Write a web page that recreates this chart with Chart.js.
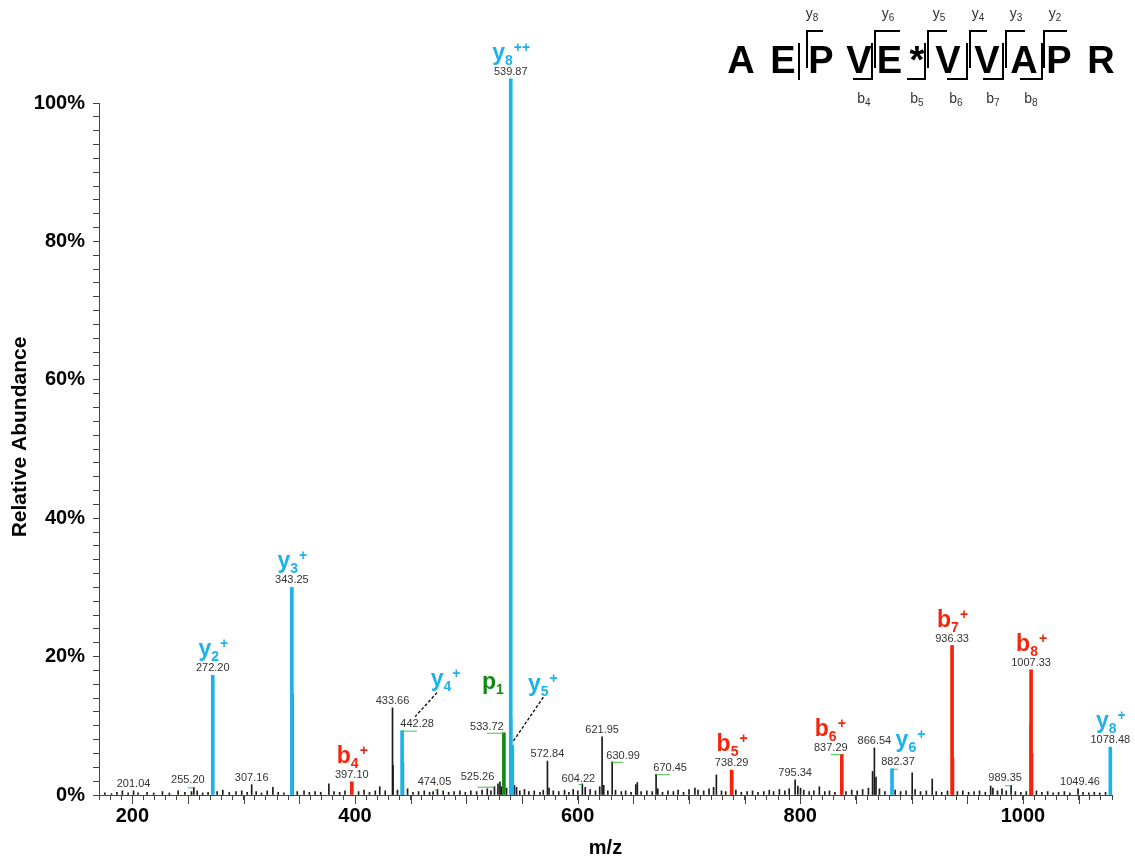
<!DOCTYPE html>
<html>
<head>
<meta charset="utf-8">
<script src="https://cdn.jsdelivr.net/npm/chart.js@4.4.1/dist/chart.umd.min.js"></script>
<style>
  html, body { margin: 0; padding: 0; background: #fff; }
  canvas { display: block; }
</style>
</head>
<body>
<canvas id="spec" width="1135" height="858"></canvas>
<script>
// ---- spectrum data: m/z and relative abundance (%) ----
const yIonMz = [272.20, 343.25, 442.28, 539.87, 541.30, 882.37, 1078.48];
const yIonAbund = [17.3, 30.0, 9.3, 103.5, 7.2, 3.8, 6.9];
const yIonIsoMz = [344.25, 443.28, 540.37];
const yIonIsoAbund = [14.5, 4.6, 11.0];

const bIonMz = [397.10, 738.29, 837.29, 936.33, 1007.33];
const bIonAbund = [1.9, 3.6, 5.9, 21.6, 18.1];
const bIonIsoMz = [738.80, 937.33, 1006.83, 1008.33];
const bIonIsoAbund = [3.3, 5.3, 10.4, 6.0];

const precursorMz = [533.72];
const precursorAbund = [9.0];

const otherMz = [175.3, 181.2, 186.1, 191.0, 196.2, 201.04, 205.1, 213.2, 219.1, 227.0,
  233.2, 241.1, 247.2, 253.1, 255.20, 258.2, 263.1, 268.0, 276.1, 281.2,
  287.0, 293.1, 298.2, 303.1, 307.16, 311.2, 316.0, 321.1, 326.2, 331.0,
  336.1, 348.1, 354.2, 359.0, 364.1, 369.2, 376.5, 381.1, 386.2, 391.0,
  403.2, 408.1, 413.0, 418.2, 422.2, 427.1, 433.66, 434.16, 438.1, 447.2,
  452.0, 457.1, 462.2, 467.0, 470.1, 474.05, 479.2, 484.1, 489.0, 494.2,
  499.1, 504.0, 509.2, 514.1, 518.8, 522.1, 525.26, 528.4, 530.2, 531.3,
  536.1, 543.2, 545.1, 548.0, 552.2, 556.1, 561.0, 566.2, 569.1, 572.84,
  574.3, 578.1, 583.0, 588.2, 592.1, 596.0, 600.1, 604.22, 606.8, 611.2,
  616.0, 619.8, 621.95, 623.4, 627.1, 630.99, 634.0, 639.2, 643.1, 648.0,
  652.2, 653.6, 657.0, 662.1, 667.0, 670.45, 672.0, 676.2, 681.1, 686.0,
  690.2, 695.1, 700.0, 705.3, 708.1, 713.2, 718.0, 722.1, 724.6, 729.2,
  733.0, 742.1, 747.0, 752.2, 757.1, 762.0, 767.2, 772.1, 776.0, 781.2,
  786.1, 790.0, 795.34, 797.8, 800.2, 803.1, 808.0, 812.2, 817.1, 822.0,
  826.2, 831.1, 841.0, 846.2, 851.1, 856.0, 861.2, 864.9, 866.54, 868.0,
  871.1, 876.0, 885.2, 890.1, 895.0, 900.5, 903.1, 908.0, 913.2, 918.5,
  922.1, 927.0, 932.2, 941.1, 946.0, 951.2, 956.1, 961.0, 966.2, 971.0,
  973.0, 977.1, 981.2, 985.0, 989.35, 993.2, 998.1, 1003.0, 1012.1, 1017.0,
  1022.2, 1027.1, 1032.0, 1037.2, 1042.1, 1049.46, 1054.0, 1059.2, 1064.1, 1069.0,
  1074.2];
const otherAbund = [0.3, 0.2, 0.4, 0.6, 0.3, 0.6, 0.3, 0.4, 0.3, 0.5,
  0.3, 0.6, 0.4, 0.5, 1.1, 0.6, 0.3, 0.4, 0.5, 0.7,
  0.4, 0.5, 0.6, 0.4, 1.5, 0.5, 0.3, 0.6, 1.1, 0.4,
  0.3, 0.5, 0.6, 0.4, 0.5, 0.4, 1.6, 0.5, 0.4, 0.6,
  0.5, 0.7, 0.4, 0.6, 1.2, 0.6, 12.6, 4.3, 0.7, 0.9,
  0.4, 0.5, 0.6, 0.4, 0.5, 0.8, 0.6, 0.4, 0.5, 0.6,
  0.4, 0.6, 0.5, 0.7, 0.9, 0.6, 1.2, 1.6, 1.9, 1.2,
  1.0, 1.4, 1.1, 0.6, 0.8, 0.5, 0.6, 0.4, 0.7, 4.9,
  1.0, 0.6, 0.5, 0.7, 0.4, 0.8, 0.6, 1.6, 1.1, 0.8,
  0.6, 1.2, 8.4, 1.4, 0.6, 4.8, 0.7, 0.5, 0.6, 0.4,
  1.5, 1.8, 0.5, 0.6, 0.5, 3.0, 0.9, 0.4, 0.6, 0.5,
  0.7, 0.4, 0.8, 1.0, 0.7, 0.6, 0.9, 1.1, 2.9, 0.6,
  0.5, 0.7, 0.4, 0.5, 0.6, 0.4, 0.5, 0.7, 0.5, 0.8,
  0.6, 0.9, 2.2, 1.3, 1.0, 0.7, 0.5, 0.6, 1.2, 0.5,
  0.6, 0.4, 0.5, 0.7, 0.6, 0.8, 1.0, 3.4, 6.8, 2.6,
  0.9, 0.5, 0.7, 0.5, 0.6, 3.2, 0.8, 0.5, 0.6, 2.3,
  0.5, 0.4, 0.6, 0.5, 0.6, 0.4, 0.5, 0.6, 0.4, 1.3,
  1.0, 0.6, 0.9, 0.6, 1.4, 0.5, 0.4, 0.5, 0.6, 0.4,
  0.5, 0.3, 0.4, 0.5, 0.3, 0.9, 0.4, 0.3, 0.4, 0.3,
  0.4];

// ion annotations drawn above their peaks
const ionTagMz = [272.20, 343.25, 442.28, 539.87, 541.30, 882.37, 1078.48,
  397.10, 738.29, 837.29, 936.33, 1007.33, 533.72];
const ionTagName = ['y', 'y', 'y', 'y', 'y', 'y', 'y', 'b', 'b', 'b', 'b', 'b', 'p'];
const ionTagIndex = ['2', '3', '4', '8', '5', '6', '8', '4', '5', '6', '7', '8', '1'];
const ionTagCharge = ['+', '+', '+', '++', '+', '+', '+', '+', '+', '+', '+', '+', ''];

// peaks whose m/z is printed
const mzLabelValues = [201.04, 255.20, 272.20, 307.16, 343.25, 397.10, 433.66, 442.28,
  474.05, 525.26, 533.72, 539.87, 572.84, 604.22, 621.95, 630.99, 670.45, 738.29,
  795.34, 837.29, 866.54, 882.37, 936.33, 989.35, 1007.33, 1049.46, 1078.48];

// peptide sequence and observed cleavages
const sequence = ['A', 'E', 'P', 'V', 'E', '*', 'V', 'V', 'A', 'P', 'R'];
const yCutIndex = ['8', '6', '5', '4', '3', '2'];
const bCutIndex = ['4', '5', '6', '7', '8'];

const xTickLabels = [200, 400, 600, 800, 1000];
const yTickLabels = [0, 20, 40, 60, 80, 100];

// ---- styling / layout ----
const FAM = '"Liberation Sans", Arial, Helvetica, sans-serif';
const BLUE = '#1db2ea', BLUE_DK = '#1592c4';
const RED = '#f4240c', RED_DK = '#c81c08';
const GREEN = '#0f8a12';
const LINK = '#45c048';

// offsets (px) of ion tags from the peak apex: [dx, baseline dy]
const tagOffset = {
  '442.28': [43, -45], '541.3': [30, -54], '533.72': [-11, -44],
  '837.29': [-12, -18], '882.37': [18, -22]
};
// dashed leaders relative to the peak apex: [x1, y1, x2, y2]
const tagLeader = {
  '442.28': [35, -38, 13, -14],
  '541.3': [31, -48, 1, -4]
};
// offsets of printed m/z values from the apex: [dx, dy, connector]
const numOffset = {
  '255.2': [-6, -7, true], '442.28': [15, -7, true], '474.05': [-3, -7, true],
  '525.26': [-17, -10, true], '533.72': [-17, -6, true], '604.22': [-4, -5, true],
  '630.99': [11, -6, true], '670.45': [14, -6, true], '837.29': [-11, -6, true],
  '882.37': [6, -7, true], '989.35': [-6, -7, true], '1049.46': [2, -7, false]
};

const allSeries = [
  [yIonMz, yIonAbund], [yIonIsoMz, yIonIsoAbund], [bIonMz, bIonAbund],
  [bIonIsoMz, bIonIsoAbund], [precursorMz, precursorAbund], [otherMz, otherAbund]
];
function abundanceAt(mz) {
  for (const [xs, ys] of allSeries) {
    const i = xs.findIndex(v => Math.abs(v - mz) < 1e-6);
    if (i >= 0) return ys[i];
  }
  return 0;
}
const pts = (xs, ys) => xs.map((x, i) => ({ x, y: ys[i] }));
const colorOf = { y: BLUE, b: RED, p: GREEN };

function drawTag(ctx, cx, baseY, name, idx, charge, color) {
  const fMain = 'bold 23px ' + FAM, fSmall = 'bold 14px ' + FAM;
  ctx.font = fMain; const wM = ctx.measureText(name).width;
  ctx.font = fSmall;
  const wI = ctx.measureText(idx).width, wC = ctx.measureText(charge).width;
  let x = cx - (wM + wI + wC) / 2;
  ctx.fillStyle = color; ctx.textAlign = 'left'; ctx.textBaseline = 'alphabetic';
  ctx.font = fMain; ctx.fillText(name, x, baseY); x += wM;
  ctx.font = fSmall; ctx.fillText(idx, x, baseY + 5); x += wI;
  ctx.fillText(charge, x + 1, baseY - 8);
}

const annotationPlugin = {
  id: 'peakAnnotations',
  afterDatasetsDraw(chart) {
    const { ctx, scales: { x, y } } = chart;
    ctx.save();
    // printed m/z values
    mzLabelValues.forEach(mz => {
      const px = x.getPixelForValue(mz), top = y.getPixelForValue(abundanceAt(mz));
      const o = numOffset[String(mz)] || [0, -7, false];
      const tx = px + o[0], ty = top + o[1];
      if (o[2]) {
        ctx.strokeStyle = LINK; ctx.lineWidth = 1;
        ctx.beginPath(); ctx.moveTo(px, top + 0.5); ctx.lineTo(tx, top + 0.5); ctx.stroke();
      }
      ctx.font = '11px ' + FAM; ctx.fillStyle = '#333';
      ctx.textAlign = 'center'; ctx.textBaseline = 'middle';
      ctx.fillText(mz.toFixed(2), tx, ty);
    });
    // ion tags
    ionTagMz.forEach((mz, i) => {
      const px = x.getPixelForValue(mz), top = y.getPixelForValue(abundanceAt(mz));
      const o = tagOffset[String(mz)] || [0, -19];
      drawTag(ctx, px + o[0], top + o[1], ionTagName[i], ionTagIndex[i], ionTagCharge[i], colorOf[ionTagName[i]]);
      const l = tagLeader[String(mz)];
      if (l) {
        ctx.strokeStyle = '#111'; ctx.lineWidth = 1.4; ctx.setLineDash([3, 2]);
        ctx.beginPath(); ctx.moveTo(px + l[0], top + l[1]); ctx.lineTo(px + l[2], top + l[3]); ctx.stroke();
        ctx.setLineDash([]);
      }
    });
    ctx.restore();
  }
};

// longer tick marks every 50 m/z, plus the rotated y-axis title
const axisExtrasPlugin = {
  id: 'axisExtras',
  afterDraw(chart) {
    const { ctx, scales: { x }, chartArea } = chart;
    ctx.save();
    ctx.strokeStyle = '#444'; ctx.lineWidth = 1;
    for (let v = Math.ceil(x.min / 50) * 50; v <= x.max; v += 50) {
      const px = Math.round(x.getPixelForValue(v)) + 0.5;
      ctx.beginPath(); ctx.moveTo(px, chartArea.bottom); ctx.lineTo(px, chartArea.bottom + 9); ctx.stroke();
    }
    ctx.translate(20, 437);
    ctx.rotate(-Math.PI / 2);
    ctx.font = 'bold 21px ' + FAM; ctx.fillStyle = '#000';
    ctx.textAlign = 'center'; ctx.textBaseline = 'middle';
    ctx.fillText('Relative Abundance', 0, 0);
    ctx.restore();
  }
};

// peptide sequence with fragment brackets
const sequencePlugin = {
  id: 'sequence',
  afterDraw(chart) {
    const ctx = chart.ctx;
    const resX = [741, 783, 821, 859, 889.5, 917, 948, 987, 1024, 1059, 1101];
    const yCutX = [807, 875, 928, 970, 1006, 1044];
    const yCutEnd = [823, 900, 947, 987, 1025, 1067];
    const bCutX = [872, 925, 967, 1003, 1042];
    const bCutStart = [853, 907, 947, 983, 1020];
    ctx.save();
    ctx.fillStyle = '#000'; ctx.font = 'bold 38px ' + FAM;
    ctx.textAlign = 'center'; ctx.textBaseline = 'alphabetic';
    sequence.forEach((r, i) => ctx.fillText(r, resX[i], 73));
    ctx.strokeStyle = '#000'; ctx.lineWidth = 2;
    // extra cleavage marker before the y8 bracket
    ctx.beginPath(); ctx.moveTo(799, 43); ctx.lineTo(799, 80); ctx.stroke();
    yCutX.forEach((cx, i) => {
      ctx.beginPath(); ctx.moveTo(cx, 68); ctx.lineTo(cx, 31); ctx.lineTo(yCutEnd[i], 31); ctx.stroke();
    });
    bCutX.forEach((cx, i) => {
      ctx.beginPath(); ctx.moveTo(bCutStart[i], 79); ctx.lineTo(cx, 79); ctx.lineTo(cx, 43); ctx.stroke();
    });
    const small = (letter, idx, cx, base) => {
      ctx.font = '14px ' + FAM; const w1 = ctx.measureText(letter).width;
      ctx.font = '10px ' + FAM; const w2 = ctx.measureText(idx).width;
      const x0 = cx - (w1 + w2) / 2;
      ctx.fillStyle = '#333'; ctx.textAlign = 'left';
      ctx.font = '14px ' + FAM; ctx.fillText(letter, x0, base);
      ctx.font = '10px ' + FAM; ctx.fillText(idx, x0 + w1, base + 3);
    };
    const yLabX = [812, 888, 939, 978, 1016, 1055];
    const bLabX = [864, 917, 956, 993, 1031];
    yCutIndex.forEach((k, i) => small('y', k, yLabX[i], 18));
    bCutIndex.forEach((k, i) => small('b', k, bLabX[i], 103));
    ctx.restore();
  }
};

Chart.defaults.font.family = FAM;
Chart.defaults.color = '#000';

const barSet = (label, xs, ys, color, w, extra) => Object.assign({
  label, data: pts(xs, ys), backgroundColor: color, borderWidth: 0,
  barThickness: w, grouped: false
}, extra || {});

new Chart(document.getElementById('spec'), {
  type: 'bar',
  data: {
    datasets: [
      barSet('y ions', yIonMz, yIonAbund, BLUE, 3, { clip: false }),
      barSet('y isotopes', yIonIsoMz, yIonIsoAbund, BLUE_DK, 1.5),
      barSet('b ions', bIonMz, bIonAbund, RED, 3),
      barSet('b isotopes', bIonIsoMz, bIonIsoAbund, RED_DK, 1.5),
      barSet('precursor', precursorMz, precursorAbund, GREEN, 3),
      barSet('other', otherMz, otherAbund, '#1a1a1a', 1)
    ]
  },
  options: {
    responsive: false,
    animation: false,
    events: [],
    layout: { padding: { top: 103, right: 23, left: 0, bottom: 0 } },
    plugins: { legend: { display: false }, tooltip: { enabled: false } },
    scales: {
      x: {
        type: 'linear', min: 170, max: 1080, offset: false,
        grid: { display: true, drawOnChartArea: false, drawTicks: true, tickLength: 5, color: '#444', offset: false },
        border: { display: true, color: '#444', width: 1 },
        ticks: {
          stepSize: 10, autoSkip: false, maxRotation: 0, minRotation: 0, padding: 4,
          font: { size: 20, weight: 'bold' }, color: '#000',
          callback: v => (xTickLabels.includes(v) ? String(v) : '')
        },
        title: { display: true, text: 'm/z', font: { size: 20, weight: 'bold', lineHeight: 1 }, padding: { top: 0, bottom: 0 }, color: '#000' },
        afterFit: s => { s.height = 63; }
      },
      y: {
        type: 'linear', min: 0, max: 100,
        grid: { display: true, drawOnChartArea: false, drawTicks: true, tickLength: 6, color: '#444' },
        border: { display: true, color: '#444', width: 1 },
        ticks: {
          stepSize: 2, autoSkip: false, maxTicksLimit: 1000, padding: 8,
          font: { size: 20, weight: 'bold' }, color: '#000',
          callback: v => (yTickLabels.includes(v) ? v + '%' : '')
        },
        afterFit: s => { s.width = 99; }
      }
    }
  },
  plugins: [annotationPlugin, axisExtrasPlugin, sequencePlugin]
});
</script>
</body>
</html>
